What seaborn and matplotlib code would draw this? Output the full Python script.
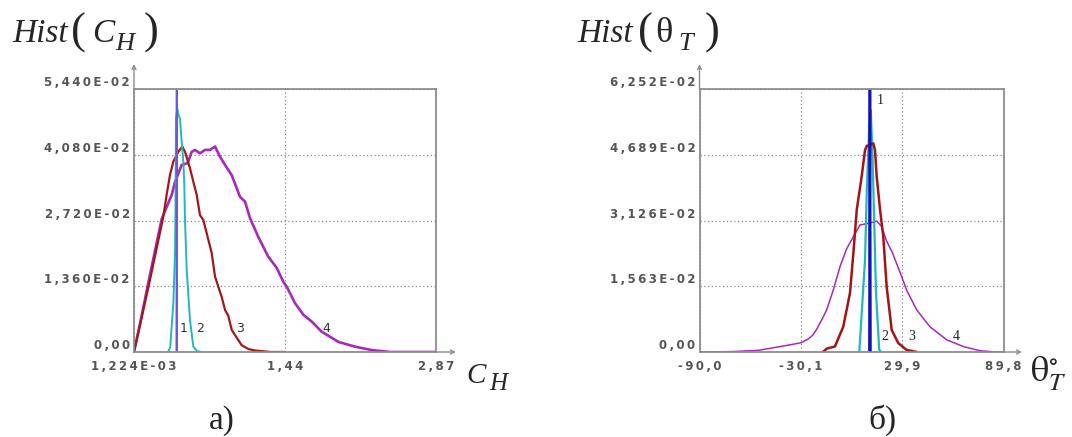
import matplotlib
matplotlib.use("Agg")
import matplotlib.pyplot as plt
import seaborn as sns

sns.set_style("white")
plt.rcParams["font.family"] = ["DejaVu Sans"]
plt.rcParams["mathtext.fontset"] = "stix"

# ---- panel a) : Hist(C_H) ----
ch_xticks = [0.001224, 1.44, 2.87]
ch_xticklabels = ["1,224E-03", "1,44", "2,87"]
ch_yticks = [0.0, 0.0136, 0.0272, 0.0408, 0.0544]
ch_yticklabels = ["0,00", "1,360E-02", "2,720E-02", "4,080E-02", "5,440E-02"]

ch1_x = [0.404, 0.407, 0.410]
ch1_y = [0.0, 0.0544, 0.0]

ch2_x = [0.325, 0.345, 0.375, 0.391, 0.396, 0.400, 0.413, 0.424, 0.438, 0.454,
         0.470, 0.479, 0.486, 0.502, 0.533, 0.565, 0.600, 0.640]
ch2_y = [0.0, 0.0010, 0.0101, 0.0205, 0.0314, 0.0484, 0.0504, 0.0490, 0.0483, 0.0435,
         0.0394, 0.0345, 0.0270, 0.0170, 0.0066, 0.0011, 0.0002, 0.0]

ch3_x = [0.001, 0.141, 0.280, 0.311, 0.343, 0.375, 0.422, 0.460, 0.486, 0.533,
         0.565, 0.597, 0.628, 0.660, 0.739, 0.771, 0.834, 0.866, 0.897, 0.929,
         0.961, 1.024, 1.090, 1.151, 1.300, 1.436]
ch3_y = [0.0, 0.0137, 0.0280, 0.0325, 0.0366, 0.0394, 0.0414, 0.0425, 0.0414, 0.0380,
         0.0352, 0.0325, 0.0283, 0.0273, 0.0205, 0.0156, 0.0114, 0.0087, 0.0075, 0.0046,
         0.0035, 0.0014, 0.0006, 0.0003, 0.0, 0.0]

ch4_x = [0.001, 0.058, 0.137, 0.264, 0.359, 0.391, 0.454, 0.502, 0.517, 0.549,
         0.581, 0.628, 0.676, 0.723, 0.771, 0.818, 0.866, 0.929, 1.008, 1.056,
         1.103, 1.182, 1.277, 1.357, 1.420, 1.452, 1.531, 1.610, 1.689, 1.784,
         1.942, 2.101, 2.259, 2.433, 2.870]
ch4_y = [0.0, 0.0058, 0.0143, 0.0275, 0.0325, 0.0352, 0.0387, 0.0390, 0.0394, 0.0414,
         0.0418, 0.0411, 0.0418, 0.0418, 0.0425, 0.0404, 0.0387, 0.0366, 0.0321, 0.0311,
         0.0277, 0.0238, 0.0197, 0.0174, 0.0145, 0.0135, 0.0101, 0.0077, 0.0063, 0.0042,
         0.0021, 0.0011, 0.0004, 0.0, 0.0]

ch_curve_names = ["1", "2", "3", "4"]
ch_name_x = [0.468, 0.628, 1.008, 1.830]
ch_name_y = [0.0049, 0.0049, 0.0049, 0.0049]

# ---- panel б) : Hist(theta_T) ----
th_xticks = [-90.0, -30.1, 29.9, 89.8]
th_xticklabels = ["-90,0", "-30,1", "29,9", "89,8"]
th_yticks = [0.0, 0.01563, 0.03126, 0.04689, 0.06252]
th_yticklabels = ["0,00", "1,563E-02", "3,126E-02", "4,689E-02", "6,252E-02"]

th1_x = [10.5, 10.8, 11.1]
th1_y = [0.0, 0.06252, 0.0]

th2_x = [4.5, 7.9, 8.9, 10.4, 11.3, 12.4, 13.4, 14.4, 16.3, 17.5]
th2_y = [0.0, 0.0219, 0.0378, 0.0536, 0.0575, 0.0456, 0.0298, 0.0140, 0.0005, 0.0]

th3_x = [-17.0, -14.8, -9.9, -5.0, -1.0, 1.0, 3.0, 5.9, 7.9, 8.9, 10.8,
         12.8, 13.8, 14.8, 16.8, 18.7, 20.7, 23.7, 27.6, 32.5, 38.5]
th3_y = [0.0, 0.0008, 0.0013, 0.0060, 0.0140, 0.0235, 0.0338, 0.0417, 0.0480, 0.0490, 0.0492,
         0.0496, 0.0480, 0.0417, 0.0338, 0.0274, 0.0155, 0.0052, 0.0021, 0.0005, 0.0]

th4_x = [-90.0, -70.0, -55.0, -46.5, -36.5, -30.0, -26.0, -23.0, -20.7, -17.5,
         -14.8, -10.9, -6.9, -3.0, 1.0, 4.9, 9.0, 14.8, 17.8, 20.5,
         24.0, 29.6, 32.5, 38.5, 46.3, 56.2, 66.0, 75.9, 85.0, 89.8]
th4_y = [0.0, 0.0001, 0.0004, 0.0010, 0.0017, 0.0022, 0.0030, 0.0040, 0.0054, 0.0078,
         0.0100, 0.0147, 0.0203, 0.0245, 0.0274, 0.0302, 0.0305, 0.0311, 0.0298, 0.0265,
         0.0237, 0.0179, 0.0147, 0.0100, 0.0060, 0.0029, 0.0013, 0.0003, 0.0, 0.0]

th_curve_names = ["1", "2", "3", "4"]
th_name_x = [16.8, 19.5, 35.3, 61.8]
th_name_y = [0.0599, 0.0036, 0.0036, 0.0036]

W, H = 1072, 437
FRAME = "#8c8c8c"
TICKCOL = "#555555"
SERIF = "Liberation Serif"


def px_axes(left, top, right, bottom):
    return [left / W, 1 - bottom / H, (right - left) / W, (bottom - top) / H]


def spaced(s):
    return "\u2009".join(s)


def ftext(x, y, s, size, style="normal", ha="left", va="baseline"):
    # place text at figure pixel coords (origin top-left)
    fig.text(x / W, 1 - y / H, s, fontsize=size, family=SERIF, fontstyle=style,
             ha=ha, va=va)


def draw_panel(ax, curves, xticks, xlabels, yticks, ylabels, arrow_x):
    for x, y, color, lw in curves:
        sns.lineplot(x=x, y=y, ax=ax, color=color, lw=lw, estimator=None, sort=False)
    ax.set_xlim(xticks[0], xticks[-1])
    ax.set_ylim(yticks[0], yticks[-1])
    ax.set_xticks(xticks, [spaced(s) for s in xlabels], fontweight="bold")
    ax.set_yticks(yticks, [spaced(s) for s in ylabels], fontweight="bold", va="bottom")
    ax.tick_params(axis="both", length=0, labelsize=8.5, labelcolor=TICKCOL)
    ax.tick_params(axis="x", pad=6)
    ax.tick_params(axis="y", pad=3)
    ax.grid(True, ls=(0, (1, 2)), color="#8a8a8a", lw=0.9)
    ax.set_xlabel("")
    ax.set_ylabel("")
    for sp in ax.spines.values():
        sp.set_color(FRAME)
        sp.set_linewidth(1.3)
    arrow = dict(arrowstyle="->", color=FRAME, lw=1.0, mutation_scale=7)
    ax.annotate("", xy=(0, 1.105), xytext=(0, 0.99), xycoords="axes fraction", arrowprops=arrow)
    ax.annotate("", xy=(arrow_x, 0), xytext=(0.99, 0), xycoords="axes fraction", arrowprops=arrow)


fig = plt.figure(figsize=(W / 100, H / 100), dpi=100)
ax_a = fig.add_axes(px_axes(134, 89, 436, 352))
ax_b = fig.add_axes(px_axes(699.5, 89, 1003.5, 352))

draw_panel(ax_a,
           [(ch4_x, ch4_y, "#a52ab9", 1.9),
            (ch3_x, ch3_y, "#a01818", 1.6),
            (ch2_x, ch2_y, "#22b8b8", 1.4),
            (ch1_x, ch1_y, "#6a5ad6", 1.3)],
           ch_xticks, ch_xticklabels, ch_yticks, ch_yticklabels, 1.075)
for name, x, y in zip(ch_curve_names, ch_name_x, ch_name_y):
    ax_a.text(x, y, name, fontsize=9, color="#333333", ha="center", va="center")

draw_panel(ax_b,
           [(th4_x, th4_y, "#a52ab9", 1.1),
            (th2_x, th2_y, "#22b8b8", 1.6),
            (th3_x, th3_y, "#a31414", 1.8),
            (th1_x, th1_y, "#1414b4", 1.9)],
           th_xticks, th_xticklabels, th_yticks, th_yticklabels, 1.07)
for name, x, y in zip(th_curve_names, th_name_x, th_name_y):
    ax_b.text(x, y, name, fontsize=10, family=SERIF, color="#222222",
              ha="center", va="center")

# axis titles: Hist(C_H)
ftext(12, 42, "Hist", 24, "italic")
ftext(78, 33, "(", 32, ha="center", va="center")
ftext(92, 42, "C", 24, "italic")
ftext(115, 50, "H", 19, "italic")
ftext(151, 33, ")", 32, ha="center", va="center")

# Hist(theta_T)
ftext(577, 42, "Hist", 24, "italic")
ftext(645, 33, "(", 32, ha="center", va="center")
ftext(655, 42, "θ", 26)
ftext(678, 50, "T", 19, "italic")
ftext(712, 33, ")", 32, ha="center", va="center")

# x-axis names
ftext(466, 383, "C", 21, "italic")
ftext(489, 390, "H", 18, "italic")
fig.text(1030 / W, 1 - 381 / H, r"$\mathrm{\theta}_T^{\circ}$", fontsize=26,
         ha="left", va="baseline")

fig.text(222 / W, 1 - 429 / H, "a)", fontsize=24, family=SERIF, ha="center", va="baseline")
fig.text(882 / W, 1 - 429 / H, "б)", fontsize=24, family=SERIF, ha="center", va="baseline")

fig.savefig("out.png", dpi=100)
